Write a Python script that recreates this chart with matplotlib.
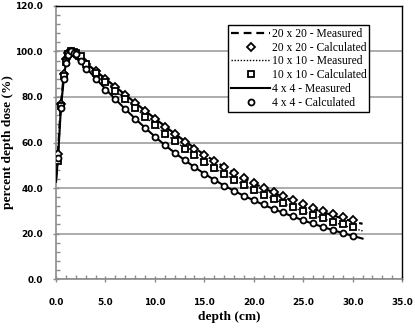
import matplotlib
matplotlib.use("Agg")
import matplotlib.pyplot as plt
from matplotlib.ticker import MultipleLocator, FormatStrFormatter

# depths (cm) of the calculated points
calc_depth = [0.2, 0.5, 0.8, 1.0, 1.2, 1.5, 1.8, 2.0, 2.5, 3.0, 4.0, 5.0, 6.0, 7.0, 8.0,
              9.0, 10.0, 11.0, 12.0, 13.0, 14.0, 15.0, 16.0, 17.0, 18.0, 19.0, 20.0,
              21.0, 22.0, 23.0, 24.0, 25.0, 26.0, 27.0, 28.0, 29.0, 30.0]
calc_20 = [55.0, 77.0, 90.0, 96.5, 99.2, 99.7, 99.2, 98.5, 96.8, 94.6, 91.2, 87.8, 84.3, 80.9, 77.4,
           73.9, 70.5, 67.0, 63.6, 60.4, 57.3, 54.4, 51.7, 49.1, 46.6, 44.3, 42.1,
           40.1, 38.2, 36.4, 34.6, 33.0, 31.4, 29.9, 28.5, 27.1, 25.8]
calc_10 = [52.0, 76.0, 89.0, 95.5, 98.8, 100.0, 99.8, 99.3, 97.8, 94.4, 90.6, 86.7, 82.8, 78.9, 75.0,
           71.2, 67.5, 63.9, 60.5, 57.3, 54.3, 51.4, 48.7, 46.1, 43.7, 41.4, 39.2,
           37.1, 35.1, 33.3, 31.5, 29.8, 28.3, 26.8, 25.3, 24.0, 22.7]
calc_4 = [53.0, 75.0, 88.0, 95.0, 98.5, 100.0, 99.5, 98.8, 96.0, 92.5, 87.8, 83.2, 78.9, 74.6, 70.4,
          66.4, 62.4, 58.8, 55.4, 52.3, 49.2, 46.3, 43.6, 41.1, 38.8, 36.7, 34.8,
          32.9, 31.0, 29.3, 27.6, 26.0, 24.5, 23.0, 21.6, 20.3, 19.0]

# measured curves
meas_depth = [0.0, 0.2, 0.5, 0.8, 1.0, 1.2, 1.5, 1.8, 2.0, 2.5, 3.0, 4.0, 5.0, 6.0, 7.0, 8.0,
              9.0, 10.0, 11.0, 12.0, 13.0, 14.0, 15.0, 16.0, 17.0, 18.0, 19.0, 20.0,
              21.0, 22.0, 23.0, 24.0, 25.0, 26.0, 27.0, 28.0, 29.0, 30.0, 31.0]
meas_20 = [44.0, 56.0, 77.5, 90.0, 96.0, 99.0, 100.0, 99.6, 99.0, 97.2, 95.0, 91.5, 88.0, 84.5, 81.0, 77.5,
           74.0, 70.6, 67.2, 63.9, 60.7, 57.6, 54.7, 51.9, 49.3, 46.8, 44.4, 42.1,
           40.0, 38.0, 36.1, 34.3, 32.6, 31.0, 29.4, 28.0, 26.6, 25.3, 24.3]
meas_10 = [43.5, 54.0, 76.5, 89.5, 95.5, 98.8, 100.0, 99.8, 99.3, 97.6, 95.0, 91.0, 87.0, 83.0, 79.0, 75.2,
           71.4, 67.7, 64.1, 60.7, 57.5, 54.4, 51.5, 48.8, 46.2, 43.7, 41.4, 39.2,
           37.1, 35.1, 33.2, 31.4, 29.7, 28.1, 26.6, 25.1, 23.7, 22.4, 21.2]
meas_4 = [42.8, 53.0, 75.5, 88.5, 95.0, 98.5, 100.0, 99.5, 98.8, 96.3, 93.0, 88.2, 83.5, 79.0, 74.7, 70.5,
          66.5, 62.6, 58.9, 55.5, 52.3, 49.2, 46.3, 43.6, 41.1, 38.8, 36.6, 34.6,
          32.6, 30.8, 29.1, 27.4, 25.8, 24.3, 22.9, 21.5, 20.2, 19.0, 17.8]

fig = plt.figure(figsize=(4.15, 3.28), dpi=100)
ax = fig.add_axes([0.135, 0.149, 0.969 - 0.135, 0.982 - 0.149])

ax.plot(meas_depth, meas_20, color="black", lw=1.6, ls=(0, (3.5, 2.2)), label="20 x 20 - Measured", zorder=3)
ax.plot(calc_depth, calc_20, ls="none", marker="D", ms=4.2, mfc="white", mec="black", mew=1.3,
        label="20 x 20 - Calculated", zorder=4)
ax.plot(meas_depth, meas_10, color="black", lw=1.0, ls=(0, (1, 1.2)), label="10 x 10 - Measured", zorder=3)
ax.plot(calc_depth, calc_10, ls="none", marker="s", ms=4.3, mfc="white", mec="black", mew=1.3,
        label="10 x 10 - Calculated", zorder=4)
ax.plot(meas_depth, meas_4, color="black", lw=1.5, ls="-", label="4 x 4 - Measured", zorder=3)
ax.plot(calc_depth, calc_4, ls="none", marker="o", ms=4.3, mfc="white", mec="black", mew=1.3,
        label="4 x 4 - Calculated", zorder=4)

ax.set_xlim(0, 35)
ax.set_ylim(0, 120)
ax.xaxis.set_major_locator(MultipleLocator(5))
ax.xaxis.set_minor_locator(MultipleLocator(1))
ax.yaxis.set_major_locator(MultipleLocator(20))
ax.yaxis.set_minor_locator(MultipleLocator(4))
ax.xaxis.set_major_formatter(FormatStrFormatter("%.1f"))
ax.yaxis.set_major_formatter(FormatStrFormatter("%.1f"))

ax.yaxis.grid(True, color="#a6a6a6", lw=1.3)
ax.set_axisbelow(True)

for s in ["left", "bottom"]:
    ax.spines[s].set_color("#8c8c8c")
    ax.spines[s].set_linewidth(1.2)
for s in ["top", "right"]:
    ax.spines[s].set_color("black")
    ax.spines[s].set_linewidth(1.0)

ax.tick_params(which="major", direction="inout", length=5, width=1, color="#8c8c8c")
ax.tick_params(which="minor", direction="in", length=3, width=1, color="#8c8c8c")
ax.tick_params(axis="x", which="major", pad=11)
ax.tick_params(axis="y", which="major", pad=7)
for lab in ax.get_xticklabels() + ax.get_yticklabels():
    lab.set_fontfamily("DejaVu Sans")
    lab.set_fontweight("bold")
    lab.set_fontsize(6.4)

ax.set_xlabel("depth (cm)", family="Liberation Serif", weight="bold", fontsize=9.6, labelpad=3)
ax.set_ylabel("percent depth dose (%)", family="Liberation Serif", weight="bold", fontsize=9.6, labelpad=1)

leg = ax.legend(loc="upper right", bbox_to_anchor=(0.905, 0.93), prop={"family": "Liberation Serif", "size": 8.4},
                frameon=True, fancybox=False, framealpha=1, edgecolor="black", borderpad=0.25,
                labelspacing=0.15, handlelength=3.3, handletextpad=0.15, borderaxespad=0)
leg.get_frame().set_linewidth(1.0)

fig.savefig("out.png", dpi=100)
